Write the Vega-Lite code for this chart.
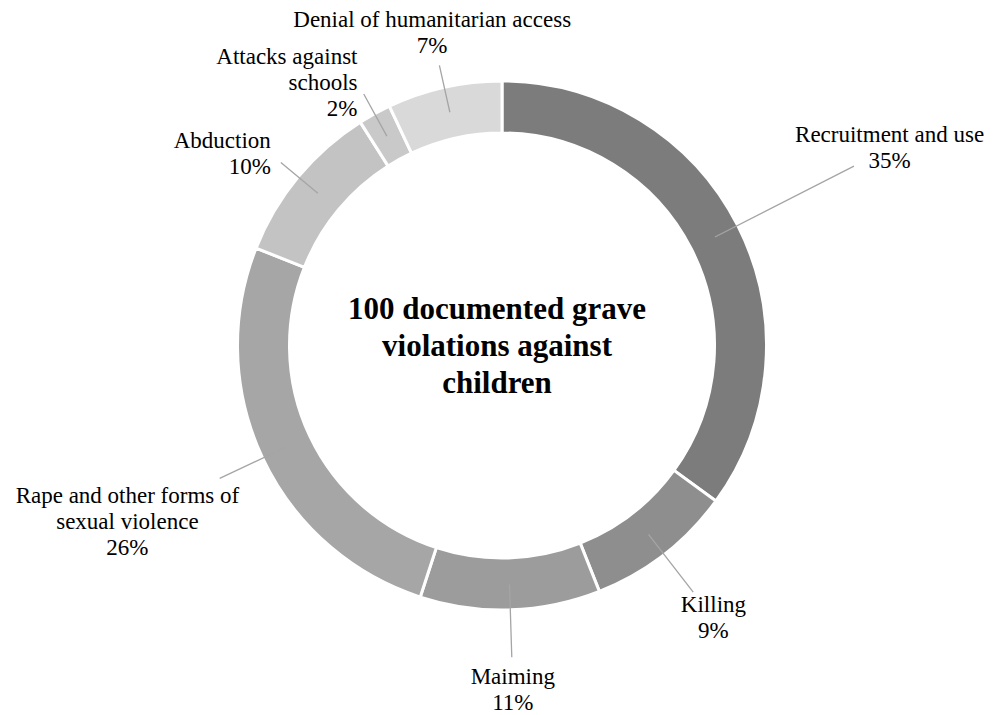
{
  "$schema": "https://vega.github.io/schema/vega-lite/v6.json",
  "width": 992,
  "height": 691,
  "autosize": {"type": "none"},
  "padding": {"left": 6, "top": 0, "right": 0, "bottom": 24},
  "background": "white",
  "config": {"view": {"stroke": null}, "text": {"font": "Liberation Serif", "fontSize": 23, "lineHeight": 26, "color": "black", "baseline": "middle"}},
  "data": {
    "values": [
      {"category": "Recruitment and use", "pct": 0.35, "label": ["Recruitment and use", "35%"]},
      {"category": "Killing", "pct": 0.09, "label": ["Killing", "9%"]},
      {"category": "Maiming", "pct": 0.11, "label": ["Maiming", "11%"]},
      {"category": "Rape and other forms of sexual violence", "pct": 0.26, "label": ["Rape and other forms of", "sexual violence", "26%"]},
      {"category": "Abduction", "pct": 0.10, "label": ["Abduction", "10%"]},
      {"category": "Attacks against schools", "pct": 0.02, "label": ["Attacks against", "schools", "2%"]},
      {"category": "Denial of humanitarian access", "pct": 0.07, "label": ["Denial of humanitarian access", "7%"]}
    ]
  },
  "transform": [{"window": [{"op": "row_number", "as": "idx"}]}],
  "layer": [
    {
      "mark": {"type": "arc", "innerRadius": 212.5, "outerRadius": 264.5, "stroke": "white", "strokeWidth": 3},
      "encoding": {
        "theta": {"field": "pct", "type": "quantitative", "stack": true},
        "order": {"field": "idx", "type": "quantitative"},
        "color": {
          "field": "category", "type": "nominal", "legend": null,
          "scale": {
            "domain": ["Recruitment and use", "Killing", "Maiming", "Rape and other forms of sexual violence", "Abduction", "Attacks against schools", "Denial of humanitarian access"],
            "range": ["#7c7c7c", "#8e8e8e", "#9c9c9c", "#a6a6a6", "#c3c3c3", "#c9c9c9", "#d9d9d9"]
          }
        }
      }
    },
    {
      "mark": {"type": "arc", "innerRadius": 239, "outerRadius": 395, "padAngle": 3, "stroke": "#a5a5a5", "strokeWidth": 1.3, "fill": "white", "fillOpacity": 0},
      "encoding": {
        "theta": {"field": "pct", "type": "quantitative", "stack": true},
        "order": {"field": "idx", "type": "quantitative"},
        "detail": {"field": "category", "type": "nominal"},
        "strokeOpacity": {"condition": {"test": "datum.category === 'Recruitment and use'", "value": 1}, "value": 0}
      }
    },
    {
      "mark": {"type": "arc", "innerRadius": 239, "outerRadius": 312, "padAngle": 3, "stroke": "#a5a5a5", "strokeWidth": 1.3, "fill": "white", "fillOpacity": 0},
      "encoding": {
        "theta": {"field": "pct", "type": "quantitative", "stack": true},
        "order": {"field": "idx", "type": "quantitative"},
        "detail": {"field": "category", "type": "nominal"},
        "strokeOpacity": {"condition": {"test": "indexof(['Killing', 'Maiming', 'Rape and other forms of sexual violence'], datum.category) >= 0", "value": 1}, "value": 0}
      }
    },
    {
      "mark": {"type": "arc", "innerRadius": 239, "outerRadius": 287, "padAngle": 3, "stroke": "#a5a5a5", "strokeWidth": 1.3, "fill": "white", "fillOpacity": 0},
      "encoding": {
        "theta": {"field": "pct", "type": "quantitative", "stack": true},
        "order": {"field": "idx", "type": "quantitative"},
        "detail": {"field": "category", "type": "nominal"},
        "strokeOpacity": {"condition": {"test": "indexof(['Abduction', 'Attacks against schools', 'Denial of humanitarian access'], datum.category) >= 0", "value": 1}, "value": 0}
      }
    },
    {
      "mark": {"type": "text", "radius": 435, "align": "center", "dy": -13},
      "encoding": {
        "theta": {"field": "pct", "type": "quantitative", "stack": true},
        "order": {"field": "idx", "type": "quantitative"},
        "detail": {"field": "category", "type": "nominal"},
        "text": {"condition": {"test": "datum.category === 'Recruitment and use'", "field": "label", "type": "nominal"}, "value": ""}
      }
    },
    {
      "mark": {"type": "text", "radius": 414, "align": "center", "dy": -26},
      "encoding": {
        "theta": {"field": "pct", "type": "quantitative", "stack": true},
        "order": {"field": "idx", "type": "quantitative"},
        "detail": {"field": "category", "type": "nominal"},
        "text": {"condition": {"test": "datum.category === 'Rape and other forms of sexual violence'", "field": "label", "type": "nominal"}, "value": ""}
      }
    },
    {
      "mark": {"type": "text", "radius": 345, "align": "center", "dy": -13},
      "encoding": {
        "theta": {"field": "pct", "type": "quantitative", "stack": true},
        "order": {"field": "idx", "type": "quantitative"},
        "detail": {"field": "category", "type": "nominal"},
        "text": {"condition": {"test": "indexof(['Killing', 'Maiming'], datum.category) >= 0", "field": "label", "type": "nominal"}, "value": ""}
      }
    },
    {
      "mark": {"type": "text", "radius": 300, "align": "right", "dy": -13},
      "encoding": {
        "theta": {"field": "pct", "type": "quantitative", "stack": true},
        "order": {"field": "idx", "type": "quantitative"},
        "detail": {"field": "category", "type": "nominal"},
        "text": {"condition": {"test": "datum.category === 'Abduction'", "field": "label", "type": "nominal"}, "value": ""}
      }
    },
    {
      "mark": {"type": "text", "radius": 300, "align": "right", "dy": -26},
      "encoding": {
        "theta": {"field": "pct", "type": "quantitative", "stack": true},
        "order": {"field": "idx", "type": "quantitative"},
        "detail": {"field": "category", "type": "nominal"},
        "text": {"condition": {"test": "datum.category === 'Attacks against schools'", "field": "label", "type": "nominal"}, "value": ""}
      }
    },
    {
      "mark": {"type": "text", "radius": 320, "align": "center", "dy": -13},
      "encoding": {
        "theta": {"field": "pct", "type": "quantitative", "stack": true},
        "order": {"field": "idx", "type": "quantitative"},
        "detail": {"field": "category", "type": "nominal"},
        "text": {"condition": {"test": "datum.category === 'Denial of humanitarian access'", "field": "label", "type": "nominal"}, "value": ""}
      }
    },
    {
      "data": {"values": [{"title": ["100 documented grave", "violations against", "children"]}]},
      "mark": {"type": "text", "fontSize": 31, "fontWeight": "bold", "lineHeight": 37, "align": "center", "dx": -5, "dy": -36},
      "encoding": {"text": {"field": "title", "type": "nominal"}}
    }
  ]
}
